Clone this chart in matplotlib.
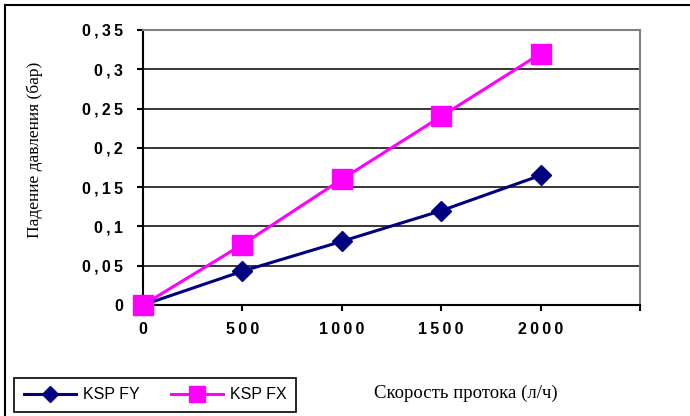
import matplotlib
matplotlib.use("agg")
import matplotlib.pyplot as plt
from matplotlib.lines import Line2D
from matplotlib.font_manager import FontProperties

# flow rate, l/h
flow = [0, 500, 1000, 1500, 2000]
# pressure drop, bar
ksp_fy = [0, 0.043, 0.081, 0.12, 0.165]
ksp_fx = [0, 0.077, 0.16, 0.24, 0.32]

x_ticks = [0, 500, 1000, 1500, 2000, 2500]
x_labels = ["0", "500", "1000", "1500", "2000", ""]
y_ticks = [0, 0.05, 0.1, 0.15, 0.2, 0.25, 0.3, 0.35]
y_labels = ["0", "0,05", "0,1", "0,15", "0,2", "0,25", "0,3", "0,35"]


def spaced(s):
    # the original labels are drawn with loose letter spacing
    return "\u2009".join(s)


W, H = 690, 416
fig = plt.figure(figsize=(W / 100, H / 100), dpi=100)
fig.patch.set_facecolor("white")
ax = fig.add_axes([143 / W, 1 - 305 / H, (640 - 143) / W, (305 - 30) / H])

for y in y_ticks[1:-1]:
    ax.axhline(y, color="black", lw=1.1, zorder=1)

ax.plot(flow, ksp_fy, color="#000080", lw=2.2, marker="D", ms=10.5,
        label="KSP FY", clip_on=False, zorder=3)
ax.plot(flow, ksp_fx, color="#FF00FF", lw=2.2, marker="s", ms=15,
        label="KSP FX", clip_on=False, zorder=4)

ax.set_xlim(0, 2500)
ax.set_ylim(0, 0.35)
ax.set_xticks(x_ticks)
ax.set_xticklabels([spaced(s) for s in x_labels])
ax.set_yticks(y_ticks)
ax.set_yticklabels([spaced(s) for s in y_labels])

tick_font = FontProperties(family="Liberation Sans", weight="bold", size=11.5)
for lab in ax.get_xticklabels() + ax.get_yticklabels():
    lab.set_fontproperties(tick_font)
ax.tick_params(axis="x", direction="out", length=4.5, width=1.5, pad=8)
ax.tick_params(axis="y", direction="out", length=4.5, width=1.5, pad=10)

for side in ["left", "bottom"]:
    ax.spines[side].set_color("black")
    ax.spines[side].set_linewidth(1.5)
for side in ["top", "right"]:
    ax.spines[side].set_color("#808080")
    ax.spines[side].set_linewidth(1.5)

fig.text(35 / W, 1 - 150 / H, "Падение давления (бар)", rotation=90,
         ha="center", va="center", family="Liberation Serif", size=12.5)
fig.text(466 / W, 1 - 393 / H, "Скорость протока (л/ч)",
         ha="center", va="center", family="Liberation Serif", size=13.5)

# outer frame (only left and top edges show)
fig.add_artist(Line2D([5 / W, 5 / W], [0, 1 - 5 / H], color="black", lw=1.5,
                      transform=fig.transFigure))
fig.add_artist(Line2D([5 / W, 1], [1 - 5 / H, 1 - 5 / H], color="black", lw=1.5,
                      transform=fig.transFigure))

leg = ax.legend(loc="lower left", bbox_to_anchor=(14 / W, 4 / H, 282 / W, 45 / H),
                bbox_transform=fig.transFigure, mode="expand", ncol=2,
                prop=dict(family="Liberation Sans", size=11.5),
                fancybox=False, edgecolor="black", framealpha=1,
                handlelength=3.3, markerscale=0.75, borderaxespad=0,
                borderpad=0.6, columnspacing=1.5, handletextpad=0.4)
leg.get_frame().set_linewidth(1.2)

fig.savefig("out.png", dpi=100)
